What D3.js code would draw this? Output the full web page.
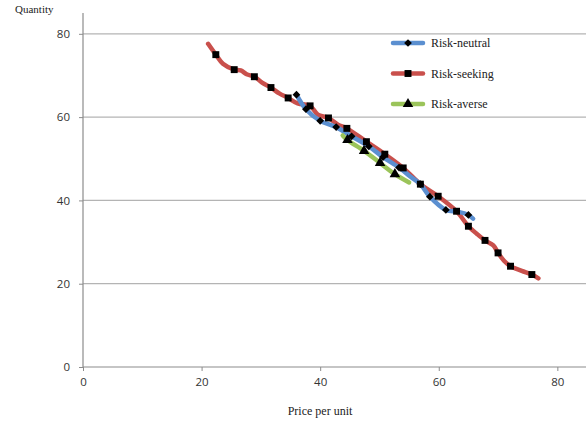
<!DOCTYPE html>
<html>
<head>
<meta charset="utf-8">
<script src="https://cdn.jsdelivr.net/npm/d3@7"></script>
<style>
  html, body { margin: 0; padding: 0; background: #fff; }
  svg { display: block; }
</style>
</head>
<body>
<div id="chart"></div>
<script>
const W = 586, H = 425;

// Series data: [price, quantity]
const neutralPts = [[36.0,65.4],[37.6,61.9],[40.0,59.1],[42.7,57.6],[45.3,55.4],[48.2,53.0],[50.6,50.4],[53.3,47.9],[55.3,45.6],[56.9,43.9],[58.5,40.9],[61.2,37.7],[63.2,37.3],[65.0,36.5],[65.8,35.6]];
const neutralMarks = [[36.0,65.4],[37.6,61.9],[40.0,59.1],[42.7,57.6],[45.3,55.4],[48.2,53.0],[50.6,50.4],[53.3,47.9],[56.9,43.9],[58.5,40.9],[61.2,37.7],[65.0,36.5]];

const seekingPts = [[21.1,77.6],[22.4,75.0],[23.6,72.8],[25.5,71.4],[26.6,71.2],[27.6,70.3],[28.9,69.7],[30.2,68.3],[31.7,67.1],[33.1,65.7],[34.6,64.6],[36.2,63.3],[38.3,62.7],[39.6,60.6],[41.4,59.8],[43.0,58.2],[44.5,57.3],[47.8,54.1],[50.9,51.1],[54.0,47.8],[56.9,43.9],[59.9,41.0],[63.0,37.4],[65.0,33.8],[66.4,32.0],[67.8,30.4],[69.2,29.2],[70.0,27.4],[71.0,25.5],[72.1,24.2],[74.0,23.1],[75.7,22.2],[76.8,21.3]];
const seekingMarks = [[22.4,75.0],[25.5,71.4],[28.9,69.7],[31.7,67.1],[34.6,64.6],[38.3,62.7],[41.4,59.8],[44.5,57.3],[47.8,54.1],[50.9,51.1],[54.0,47.8],[56.9,43.9],[59.9,41.0],[63.0,37.4],[65.0,33.8],[67.8,30.4],[70.0,27.4],[72.1,24.2],[75.7,22.2]];

const aversePts = [[43.8,55.6],[44.6,54.5],[47.4,51.9],[50.1,49.0],[52.6,46.3],[55.0,44.3]];
const averseMarks = [[44.6,54.5],[47.4,51.9],[50.1,49.0],[52.6,46.3]];

const xTicks = [0, 20, 40, 60, 80];
const yTicks = [0, 20, 40, 60, 80];
const seriesNames = ['Risk-neutral', 'Risk-seeking', 'Risk-averse'];

const BLUE = '#5b8fd0', RED = '#c9504c', GREEN = '#9bc45a';
const AXIS = '#8c8c8c', GRID = '#b4b4b4', LABEL = '#333';
const SANS = '"Open Sans", "DejaVu Sans", sans-serif';
const SERIF = '"Liberation Serif", "Times New Roman", serif';

const plotL = 83, plotR = 587, plotT = 13, plotB = 367;

const x = d3.scaleLinear().domain([0, 85]).range([plotL, plotR]);
const y = d3.scaleLinear().domain([0, 85]).range([plotB, plotT]);

const svg = d3.select('#chart').append('svg')
  .attr('width', W).attr('height', H)
  .attr('viewBox', `0 0 ${W} ${H}`);

// Gridlines
svg.selectAll('.grid')
  .data(yTicks.filter(d => d > 0))
  .join('line')
  .attr('x1', plotL).attr('x2', plotR)
  .attr('y1', d => y(d)).attr('y2', d => y(d))
  .attr('stroke', GRID).attr('stroke-width', 1.2);

// Axes
const yAxis = d3.axisLeft(y).tickValues(yTicks).tickSize(4).tickPadding(9);
const xAxis = d3.axisBottom(x).tickValues(xTicks).tickSize(4).tickPadding(7);

const gy = svg.append('g').attr('transform', `translate(${plotL},0)`).call(yAxis);
const gx = svg.append('g').attr('transform', `translate(0,${plotB})`).call(xAxis);

[gx, gy].forEach(g => {
  g.select('.domain').attr('stroke', AXIS).attr('stroke-width', 1.2);
  g.selectAll('.tick line').attr('stroke', AXIS);
  g.selectAll('.tick text')
    .attr('font-family', SANS).attr('font-size', 11.5).attr('fill', LABEL);
});
gx.select('.domain').attr('d', `M${plotL},0H${plotR}`);
gy.select('.domain').attr('d', `M0,${plotB}V${plotT}`);

// Axis titles
svg.append('text')
  .attr('x', 15).attr('y', 13)
  .attr('font-family', SERIF).attr('font-size', 11).attr('fill', '#222')
  .text('Quantity');

svg.append('text')
  .attr('x', 320).attr('y', 415)
  .attr('text-anchor', 'middle')
  .attr('font-family', SERIF).attr('font-size', 12).attr('fill', '#222')
  .text('Price per unit');

// Lines
const line = d3.line()
  .x(d => x(d[0])).y(d => y(d[1]))
  .curve(d3.curveCatmullRom.alpha(0.5));

const drawLine = (pts, color) => svg.append('path')
  .datum(pts)
  .attr('d', line)
  .attr('fill', 'none')
  .attr('stroke', color)
  .attr('stroke-width', 4.5)
  .attr('stroke-linecap', 'round')
  .attr('stroke-linejoin', 'round');

drawLine(seekingPts, RED);
drawLine(neutralPts, BLUE);
drawLine(aversePts, GREEN);

// Markers (diamond = square turned 45deg, as Excel draws it)
const sym = {
  diamond: d3.symbol().type(d3.symbolSquare).size(30),
  square: d3.symbol().type(d3.symbolSquare).size(48),
  triangle: d3.symbol().type(d3.symbolTriangle).size(48)
};
const symRot = { diamond: 45, square: 0, triangle: 0 };

const drawMarks = (pts, key) => svg.append('g')
  .selectAll('path')
  .data(pts)
  .join('path')
  .attr('transform', d => `translate(${x(d[0])},${y(d[1])}) rotate(${symRot[key]})`)
  .attr('d', sym[key])
  .attr('fill', '#000');

drawMarks(seekingMarks, 'square');
drawMarks(averseMarks, 'triangle');
drawMarks(neutralMarks, 'diamond');

// Legend
const legendColors = [BLUE, RED, GREEN];
const legendKeys = ['diamond', 'square', 'triangle'];
const legend = svg.append('g')
  .selectAll('g')
  .data(seriesNames)
  .join('g')
  .attr('transform', (d, i) => `translate(393,${43 + i * 30.5})`);

legend.append('line')
  .attr('x1', 0).attr('x2', 30)
  .attr('stroke', (d, i) => legendColors[i])
  .attr('stroke-width', 4.5)
  .attr('stroke-linecap', 'round');

legend.append('path')
  .attr('transform', (d, i) => `translate(15,0) rotate(${symRot[legendKeys[i]]})`)
  .attr('d', (d, i) => sym[legendKeys[i]]())
  .attr('fill', '#000');

legend.append('text')
  .attr('x', 38).attr('y', 0).attr('dy', '0.35em')
  .attr('font-family', SERIF).attr('font-size', 12).attr('fill', '#222')
  .text(d => d);
</script>
</body>
</html>
